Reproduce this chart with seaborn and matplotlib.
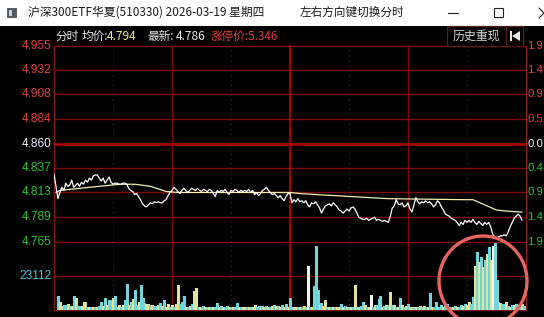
import matplotlib
matplotlib.use("Agg")
import matplotlib.pyplot as plt
from matplotlib.patches import Rectangle, Ellipse, Polygon
from matplotlib.lines import Line2D
from matplotlib.transforms import blended_transform_factory
import seaborn as sns

W, H = 544, 317

# ---------------- data ----------------
title = "沪深300ETF华夏(510330) 2026-03-19 星期四"
hint = "左右方向键切换分时"
prev_close = 4.860

# minute-by-minute price (09:30 = minute 0)
price = [
    4.831, 4.819, 4.807, 4.813, 4.818, 4.815, 4.822, 4.819, 4.820, 4.825,
    4.818, 4.820, 4.822, 4.819, 4.823, 4.821, 4.825, 4.823, 4.827, 4.825,
    4.829, 4.830, 4.830, 4.827, 4.824, 4.827, 4.822, 4.825, 4.828, 4.823,
    4.821, 4.822, 4.822, 4.821, 4.821, 4.822, 4.822, 4.821, 4.817, 4.815,
    4.814, 4.811, 4.812, 4.809, 4.806, 4.802, 4.800, 4.799, 4.801, 4.803,
    4.802, 4.804, 4.803, 4.804, 4.803, 4.803, 4.805, 4.806, 4.810, 4.813,
    4.815, 4.818, 4.816, 4.814, 4.812, 4.815, 4.817, 4.815, 4.813, 4.815,
    4.817, 4.816, 4.815, 4.817, 4.815, 4.814, 4.816, 4.815, 4.814, 4.816,
    4.815, 4.812, 4.809, 4.815, 4.813, 4.815, 4.814, 4.816, 4.813, 4.811,
    4.815, 4.814, 4.816, 4.815, 4.813, 4.815, 4.814, 4.815, 4.814, 4.816,
    4.813, 4.815, 4.811, 4.813, 4.810, 4.812, 4.815, 4.816, 4.818, 4.815,
    4.813, 4.811, 4.812, 4.810, 4.808, 4.810, 4.807, 4.805, 4.809, 4.812,
    4.812, 4.803, 4.806, 4.804, 4.807, 4.804, 4.805, 4.803, 4.805, 4.801,
    4.799, 4.803, 4.802, 4.804, 4.801, 4.798, 4.793, 4.797, 4.800, 4.801,
    4.802, 4.800, 4.803, 4.801, 4.799, 4.796, 4.795, 4.793, 4.795, 4.797,
    4.795, 4.798, 4.799, 4.797, 4.793, 4.789, 4.788, 4.787, 4.787, 4.788,
    4.786, 4.787, 4.788, 4.789, 4.786, 4.787, 4.786, 4.785, 4.786, 4.785,
    4.784, 4.790, 4.798, 4.800, 4.806, 4.802, 4.801, 4.803, 4.799, 4.800,
    4.803, 4.797, 4.794, 4.801, 4.808, 4.804, 4.802, 4.804, 4.803, 4.805,
    4.803, 4.804, 4.802, 4.799, 4.801, 4.805, 4.803, 4.799, 4.796, 4.792,
    4.791, 4.790, 4.788, 4.787, 4.786, 4.784, 4.781, 4.784, 4.782, 4.786,
    4.784, 4.786, 4.784, 4.787, 4.784, 4.782, 4.785, 4.783, 4.781, 4.784,
    4.782, 4.784, 4.780, 4.773, 4.770, 4.769, 4.770, 4.771, 4.771, 4.772,
    4.771, 4.775, 4.780, 4.784, 4.788, 4.790, 4.792, 4.790, 4.786,
]
price_minutes = list(range(len(price)))

# average price line (read at key minutes)
avg_minutes = [1, 3, 8, 13, 23, 34, 41, 49, 57, 63, 80, 120, 125, 133, 170, 210, 213, 225, 230, 238]
avg_price = [4.813, 4.815, 4.816, 4.817, 4.819, 4.821, 4.821, 4.819, 4.814, 4.813,
             4.813, 4.813, 4.812, 4.811, 4.807, 4.806, 4.806, 4.796, 4.795, 4.794]

# per-minute volume, minutes 2..239
volume = [
    9500, 5400, 2700, 3400, 3400, 4100, 2700, 2700, 9500, 8200,
    2700, 2700, 2700, 5400, 5400, 2000, 2000, 2000, 2000, 2000,
    2000, 2700, 5400, 2700, 8200, 3400, 6800, 6800, 8200, 9500,
    2000, 3400, 2000, 3400, 6800, 17700, 3400, 5400, 7500, 13600,
    3400, 5400, 17000, 8200, 4800, 4100,
    4100, 3400, 3400, 2700, 2700, 3400, 4800, 2700, 6800, 2000,
    4100, 2000, 3400, 2000, 4100, 17000, 4100, 5400, 9500, 2000,
    2000, 2700, 4100, 12900, 15000, 2000, 2000, 2000, 2700, 2000,
    2000, 2000, 2000, 2000, 2000, 4800, 2000, 2700, 2000, 2000,
    2700, 2000, 2000, 2000, 2000, 4800, 2000, 2000, 2000,
    2000, 2000, 2000, 2000, 2000, 3400, 2000, 2700, 2000, 2700,
    2000, 2700, 2000, 2000, 2700, 3400, 2700, 2700, 2000, 3400,
    2000, 4100, 2000, 8200, 2000, 2000, 2000, 2000, 2000, 2000,
    2700, 2000, 29900, 2000, 2000, 16300, 43500, 13600, 3400, 4800,
    2700, 6800, 2000, 2000, 2000, 2000, 2000, 2000,
    2000, 4100, 2000, 2700, 2000, 2000, 2000, 2000, 17000, 2000,
    2000, 2700, 5400, 3400, 2000, 2000, 10200, 2000, 3400, 3400,
    7500, 9500, 2000, 2700, 3400, 3400, 12200, 3400, 3400, 2000,
    2000, 8200, 3400, 2000, 2700, 4100, 2000, 2000, 2000, 2000,
    2000, 2700, 2000, 2700, 2000, 2000, 11600, 2000, 2000,
    5400, 2000, 2000, 3400, 2000, 3400, 4100, 2000, 2000, 2000,
    2700, 2000, 2000, 3400, 2700, 4100, 3400, 5400, 4100, 8800,
    29900, 39400, 32600, 36000, 29200, 34000, 38100, 42800, 34000, 43500,
    45600, 20400, 5400, 4800, 4100, 4100, 5400, 2700, 2000, 3400,
    3400, 4100, 2700, 2000, 4100, 2700,
]
vol_kind = (
    "cyyccycycy" "ccyyycycyc" "yccycyccyc" "cycyccycyc" "cycccy"
    "ycyccycycy" "ycycyycccy" "cycyycyccy" "cycyccycyc" "cycyccycy"
    "ycycyyccyc" "ycycycycyc" "ycyccyycyc" "ycwcycccyc" "yycycycy"
    "ycycycycyc" "yccycywcyc" "ccycycycyc" "ycycycyycy" "cycycycyc"
    "cyccyccycy" "cyccycyycc" "ycycycycyw" "cccyccycyc" "ycycyc"
)
vol_minutes = list(range(2, 2 + len(volume)))
vol_ref = 23112

left_ticks = [4.955, 4.932, 4.908, 4.884, 4.860, 4.837, 4.813, 4.789, 4.765]
left_labels = ["4.955", "4.932", "4.908", "4.884", "4.860", "4.837", "4.813", "4.789", "4.765"]
# percentage labels as visible at the right edge of the window
right_labels = ["1.9", "1.4", "0.9", "0.5", "0.0", "0.4", "0.9", "1.4", "1.9"]

avg_val, last_val, limit_val = "4.794", "4.786", "5.346"

# ---------------- style ----------------
RED_TXT = "#e04040"
GRN_TXT = "#2fc02f"
WHT_TXT = "#e8eef8"
GRID = "#7c0c0c"
GRID_MID = "#a40000"
CYAN_TXT = "#46c6d6"
KIND_COL = {"c": "#6fd6dc", "y": "#e2e29a", "w": "#f4f4f4"}
CJK = ["Noto Sans CJK SC", "DejaVu Sans"]
NUM = ["Liberation Sans", "DejaVu Sans"]

sns.set_style("dark")
plt.rcParams["font.family"] = CJK

fig = plt.figure(figsize=(W / 100, H / 100), dpi=100, facecolor="black")


def fx(x):
    return x / W


def fy(y):
    return 1 - y / H


# ---------------- title bar ----------------
fig.add_artist(Rectangle((0, fy(26)), 1, 26 / H, transform=fig.transFigure,
                         facecolor="white", edgecolor="none", zorder=0))
fig.add_artist(Rectangle((fx(7), fy(17)), 9 / W, 9 / H, transform=fig.transFigure,
                         facecolor="#505a60", edgecolor="#404040", lw=0.5))
fig.add_artist(Rectangle((fx(8.5), fy(15.5)), 3 / W, 6 / H, transform=fig.transFigure,
                         facecolor="#c8d4da", edgecolor="none"))
fig.text(fx(28), fy(12.5), title, fontsize=8.5, color="#1a1a1a", va="center", ha="left", family=CJK)
fig.text(fx(300), fy(12.5), hint, fontsize=8.4, color="#1a1a1a", va="center", ha="left", family=CJK)
fig.add_artist(Line2D([fx(448), fx(458)], [fy(12.5), fy(12.5)], transform=fig.transFigure,
                      color="#222222", lw=0.8))
fig.add_artist(Rectangle((fx(494), fy(17)), 9 / W, 9 / H, transform=fig.transFigure,
                         facecolor="none", edgecolor="#222222", lw=0.8))
fig.add_artist(Line2D([fx(539), fx(549)], [fy(8), fy(18)], transform=fig.transFigure, color="#222222", lw=0.8))
fig.add_artist(Line2D([fx(539), fx(549)], [fy(18), fy(8)], transform=fig.transFigure, color="#222222", lw=0.8))

# ---------------- header ----------------
hy = fy(36.5)
fig.text(fx(55), hy, "分时", fontsize=8.4, color="#e6e6e6", va="center", family=CJK)
fig.text(fx(82), hy, "均价:", fontsize=8.4, color="#e6e6e6", va="center", family=CJK)
fig.text(fx(107), hy, avg_val, fontsize=8.6, color="#e8e878", va="center", family=CJK)
fig.text(fx(147), hy, "最新:", fontsize=8.4, color="#e6e6e6", va="center", family=CJK)
fig.text(fx(176), hy, last_val, fontsize=8.6, color="#e6e6e6", va="center", family=CJK)
fig.text(fx(211), hy, "涨停价:" + limit_val, fontsize=8.4, color=RED_TXT, va="center", family=CJK)

fig.add_artist(Rectangle((fx(447), fy(46)), 59 / W, 20 / H, transform=fig.transFigure,
                         facecolor="black", edgecolor="#5a1a1a", lw=0.9))
fig.text(fx(476.5), fy(36.5), "历史重现", fontsize=8.6, color="#d8d8d8", va="center", ha="center", family=CJK)
fig.add_artist(Rectangle((fx(506), fy(46)), 17 / W, 20 / H, transform=fig.transFigure,
                         facecolor="black", edgecolor="#5a1a1a", lw=0.9))
fig.add_artist(Rectangle((fx(509.5), fy(41)), 2 / W, 10 / H, transform=fig.transFigure,
                         facecolor="#e8e8e8", edgecolor="none"))
fig.add_artist(Polygon([[fx(512), fy(36)], [fx(520), fy(31)], [fx(520), fy(41)]],
                       closed=True, transform=fig.transFigure, facecolor="#e8e8e8", edgecolor="none"))

# ---------------- axes ----------------
ax = fig.add_axes([fx(54), fy(242), 472 / W, 196 / H])
axv = fig.add_axes([fx(54), fy(310), 472 / W, 68 / H])
for a in (ax, axv):
    a.set_axis_off()
    a.set_xlim(0, 240)
ax.set_ylim(left_ticks[-1], left_ticks[0])
axv.set_ylim(0, 2 * vol_ref)

# grid
for v in left_ticks:
    if v == prev_close:
        ax.axhline(v, color=GRID_MID, lw=2.0, clip_on=False, zorder=1)
    else:
        ax.axhline(v, color=GRID, lw=1.0, clip_on=False, zorder=1)
axv.axhline(vol_ref, color=GRID, lw=1.0, clip_on=False, zorder=1)
axv.axhline(0, color=GRID, lw=1.0, clip_on=False, zorder=1)

for a in (ax, axv):
    for m in (30, 90, 150, 210):
        a.axvline(m, color=GRID, lw=0.8, ls=(0, (1.2, 3.2)), clip_on=False, zorder=1)
    for m in (60, 180):
        a.axvline(m, color=GRID, lw=1.0, clip_on=False, zorder=1)
    a.axvline(120, color=GRID_MID, lw=1.6, clip_on=False, zorder=1)
    a.axvline(0, color="#8a1414", lw=1.0, clip_on=False, zorder=1)
    a.axvline(240, color="#9a1a1a", lw=1.0, clip_on=False, zorder=1)

# lines
sns.lineplot(x=avg_minutes, y=avg_price, ax=ax, color="#f0f0b0", lw=0.9, zorder=3)
sns.lineplot(x=price_minutes, y=price, ax=ax, color="white", lw=0.9, zorder=4)
ax.set_axis_off()

# volume bars
cols = [KIND_COL[k] for k in vol_kind]
axv.vlines(vol_minutes, 0, volume, colors=cols, lw=0.75, antialiased=False, zorder=3)

# axis labels
tl = blended_transform_factory(ax.transAxes, ax.transData)
for v, lab, rlab in zip(left_ticks, left_labels, right_labels):
    if v > prev_close:
        col = RED_TXT
    elif v < prev_close:
        col = GRN_TXT
    else:
        col = WHT_TXT
    ax.text(-2.5 / 472, v, lab, transform=tl, ha="right", va="center", fontsize=8.6,
            color=col, family=NUM, clip_on=False)
    ax.text(1 + 1.5 / 472, v, rlab, transform=tl, ha="left", va="center", fontsize=8.2,
            color=col, family=NUM, clip_on=False)
tv = blended_transform_factory(axv.transAxes, axv.transData)
axv.text(-2.5 / 472, vol_ref, str(vol_ref), transform=tv, ha="right", va="center",
         fontsize=8.6, color=CYAN_TXT, family=NUM, clip_on=False)

# red highlight circle
fig.add_artist(Ellipse((fx(483), fy(281)), 88 / W, 90 / H, transform=fig.transFigure,
                       facecolor="none", edgecolor="#e8645e", lw=2.4, zorder=10))

fig.savefig("out.png", dpi=100, facecolor="black")
